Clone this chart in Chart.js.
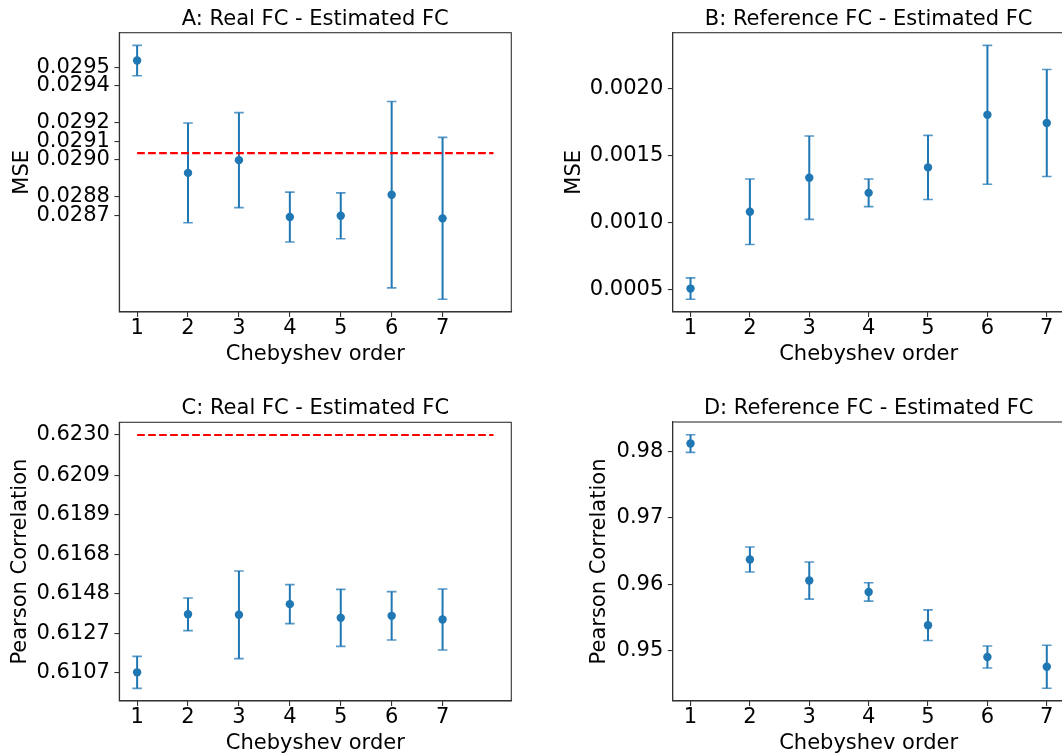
<!DOCTYPE html>
<html>
<head>
<meta charset="utf-8">
<script src="https://cdn.jsdelivr.net/npm/chart.js@4.4.0/dist/chart.umd.min.js"></script>
<style>
  html, body { margin: 0; padding: 0; background: #fff; overflow: hidden; }
  body { width: 1062px; height: 756px; position: relative; }
  canvas { position: absolute; }
  #chartA { left: 0; top: 0; }
  #chartB { left: 531px; top: 0; }
  #chartC { left: 0; top: 390px; }
  #chartD { left: 531px; top: 390px; }
</style>
</head>
<body>
<canvas id="chartA" width="531" height="390"></canvas>
<canvas id="chartB" width="540" height="390"></canvas>
<canvas id="chartC" width="531" height="366"></canvas>
<canvas id="chartD" width="540" height="366"></canvas>
<script>
// x categories (Chebyshev order)
const orders = [1, 2, 3, 4, 5, 6, 7];
const orderTicks = [1, 2, 3, 4, 5, 6, 7];
const baselineSpan = [1, 8];

// A: MSE, real FC vs estimated FC
const mseRealMean = [0.029537, 0.028929, 0.028998, 0.028690, 0.028697, 0.028811, 0.028683];
const mseRealErr = [0.000082, 0.000270, 0.000257, 0.000135, 0.000124, 0.000504, 0.000438];
const mseRealBaseline = 0.029036;
const mseRealTicks = [0.0287, 0.0288, 0.0290, 0.0291, 0.0292, 0.0294, 0.0295];

// B: MSE, reference FC vs estimated FC
const mseRefMean = [0.000506, 0.001079, 0.001333, 0.001220, 0.001410, 0.001802, 0.001741];
const mseRefErr = [0.000080, 0.000244, 0.000311, 0.000103, 0.000239, 0.000518, 0.000399];
const mseRefTicks = [0.0005, 0.0010, 0.0015, 0.0020];

// C: Pearson correlation, real FC vs estimated FC
const corrRealMean = [0.610717, 0.613719, 0.613693, 0.614245, 0.613537, 0.613641, 0.613452];
const corrRealErr = [0.000828, 0.000846, 0.002269, 0.001009, 0.001475, 0.001250, 0.001579];
const corrRealBaseline = 0.6230;
const corrRealTicks = [0.6107, 0.6127, 0.6148, 0.6168, 0.6189, 0.6209, 0.6230];

// D: Pearson correlation, reference FC vs estimated FC
const corrRefMean = [0.98113, 0.96372, 0.960565, 0.95886, 0.953865, 0.94910, 0.947625];
const corrRefErr = [0.00133, 0.00188, 0.002785, 0.00138, 0.002305, 0.00165, 0.003235];
const corrRefTicks = [0.95, 0.96, 0.97, 0.98];

Chart.defaults.font.family = "'DejaVu Sans', sans-serif";
Chart.defaults.font.size = 21;
Chart.defaults.color = "#000";

const BLUE = "#1f77b4";
const CAP = "rgba(31, 119, 180, 0.75)";
const AXIS = "#333333";

// box around the plot area (matplotlib spines)
const framePlugin = {
  id: "frame",
  afterDatasetsDraw(chart) {
    const { ctx, chartArea } = chart;
    ctx.save();
    ctx.strokeStyle = AXIS;
    ctx.lineWidth = 1.1;
    ctx.strokeRect(chartArea.left, chartArea.top, chartArea.right - chartArea.left, chartArea.bottom - chartArea.top);
    ctx.restore();
  },
};

function errorPoints(means, errs) {
  const pts = [];
  orders.forEach((x, i) => {
    pts.push({ x, y: means[i] - errs[i] });
    pts.push({ x, y: means[i] + errs[i] });
    pts.push({ x, y: null });
  });
  return pts;
}

// matplotlib-like 5% autoscale margin
function paddedRange(lo, hi) {
  const pad = (hi - lo) * 0.05;
  return [lo - pad, hi + pad];
}

function makePanel(canvasId, p) {
  const lows = p.means.map((m, i) => m - p.errs[i]);
  const highs = p.means.map((m, i) => m + p.errs[i]);
  if (p.baseline != null) {
    lows.push(p.baseline);
    highs.push(p.baseline);
  }
  const yr = paddedRange(Math.min(...lows), Math.max(...highs));
  const xr = p.baseline != null ? paddedRange(baselineSpan[0], baselineSpan[1]) : paddedRange(orders[0], orders[orders.length - 1]);

  const datasets = [
    {
      data: orders.map((x, i) => ({ x, y: p.means[i] })),
      showLine: false,
      pointStyle: "circle",
      pointRadius: 4.2,
      pointBackgroundColor: BLUE,
      pointBorderWidth: 0,
    },
  ];
  if (p.baseline != null) {
    datasets.push({
      data: baselineSpan.map((x) => ({ x, y: p.baseline })),
      borderColor: "#ff0000",
      borderWidth: 2.1,
      borderDash: [7.7, 3.3],
      pointRadius: 0,
    });
  }
  datasets.push({
    data: errorPoints(p.means, p.errs),
    borderColor: BLUE,
    borderWidth: 2,
    spanGaps: false,
    tension: 0,
    pointStyle: "line",
    pointRadius: 4.8,
    pointBorderColor: CAP,
    pointBackgroundColor: CAP,
    pointBorderWidth: 1.6,
  });

  return new Chart(document.getElementById(canvasId), {
    type: "line",
    data: { datasets },
    plugins: [framePlugin],
    options: {
      responsive: false,
      animation: false,
      events: [],
      layout: { padding: { left: 0, right: p.padRight, top: 0, bottom: 0 } },
      plugins: {
        legend: { display: false },
        tooltip: { enabled: false },
        title: {
          display: true,
          text: p.title,
          fullSize: false,
          color: "#000",
          font: { size: 21, weight: "normal" },
          padding: { top: p.titleTop, bottom: p.titleBottom },
        },
      },
      scales: {
        x: {
          type: "linear",
          position: "bottom",
          min: xr[0],
          max: xr[1],
          afterBuildTicks: (s) => { s.ticks = orderTicks.map((v) => ({ value: v })); },
          afterFit: (s) => { s.height = p.xAxisHeight; },
          ticks: {
            color: "#000",
            padding: 1.3,
            autoSkip: false,
            maxRotation: 0,
            font: { size: 21, lineHeight: 1 },
            callback: (v) => String(v),
          },
          grid: { drawOnChartArea: false, drawTicks: true, tickLength: 4.9, color: AXIS, lineWidth: 1.1 },
          border: { display: true, color: AXIS, width: 1.1 },
          title: {
            display: true,
            text: "Chebyshev order",
            color: "#000",
            font: { size: 21 },
            padding: { top: 0, bottom: p.xTitlePad },
          },
        },
        y: {
          type: "linear",
          position: "left",
          min: yr[0],
          max: yr[1],
          afterBuildTicks: (s) => { s.ticks = p.yTicks.map((v) => ({ value: v })); },
          afterFit: (s) => { s.width = p.yAxisWidth; },
          ticks: {
            color: "#000",
            padding: 4.5,
            autoSkip: false,
            font: { size: 21 },
            callback: (v) => Number(v).toFixed(p.yDecimals),
          },
          grid: { drawOnChartArea: false, drawTicks: true, tickLength: 4.9, color: AXIS, lineWidth: 1.1 },
          border: { display: true, color: AXIS, width: 1.1 },
          title: {
            display: true,
            text: p.yLabel,
            color: "#000",
            font: { size: 21 },
            padding: { top: p.yTitlePad, bottom: 0 },
          },
        },
      },
    },
  });
}

makePanel("chartA", {
  title: "A: Real FC - Estimated FC",
  yLabel: "MSE",
  means: mseRealMean,
  errs: mseRealErr,
  baseline: mseRealBaseline,
  yTicks: mseRealTicks,
  yDecimals: 4,
  yAxisWidth: 119.3,
  yTitlePad: 9.9,
  xAxisHeight: 78,
  xTitlePad: 23,
  titleTop: 6.6,
  titleBottom: 0.9,
  padRight: 19.7,
});

makePanel("chartB", {
  title: "B: Reference FC - Estimated FC",
  yLabel: "MSE",
  means: mseRefMean,
  errs: mseRefErr,
  baseline: null,
  yTicks: mseRefTicks,
  yDecimals: 4,
  yAxisWidth: 141.7,
  yTitlePad: 31.2,
  xAxisHeight: 78,
  xTitlePad: 23,
  titleTop: 6.6,
  titleBottom: 0.9,
  padRight: 6.2,
});

makePanel("chartC", {
  title: "C: Real FC - Estimated FC",
  yLabel: "Pearson Correlation",
  means: corrRealMean,
  errs: corrRealErr,
  baseline: corrRealBaseline,
  yTicks: corrRealTicks,
  yDecimals: 4,
  yAxisWidth: 119.3,
  yTitlePad: 7.9,
  xAxisHeight: 55,
  xTitlePad: 0,
  titleTop: 6.2,
  titleBottom: 0.9,
  padRight: 19.7,
});

makePanel("chartD", {
  title: "D: Reference FC - Estimated FC",
  yLabel: "Pearson Correlation",
  means: corrRefMean,
  errs: corrRefErr,
  baseline: null,
  yTicks: corrRefTicks,
  yDecimals: 2,
  yAxisWidth: 141.7,
  yTitlePad: 56.4,
  xAxisHeight: 55,
  xTitlePad: 0,
  titleTop: 5.9,
  titleBottom: 0.9,
  padRight: 6.2,
});
</script>
</body>
</html>
